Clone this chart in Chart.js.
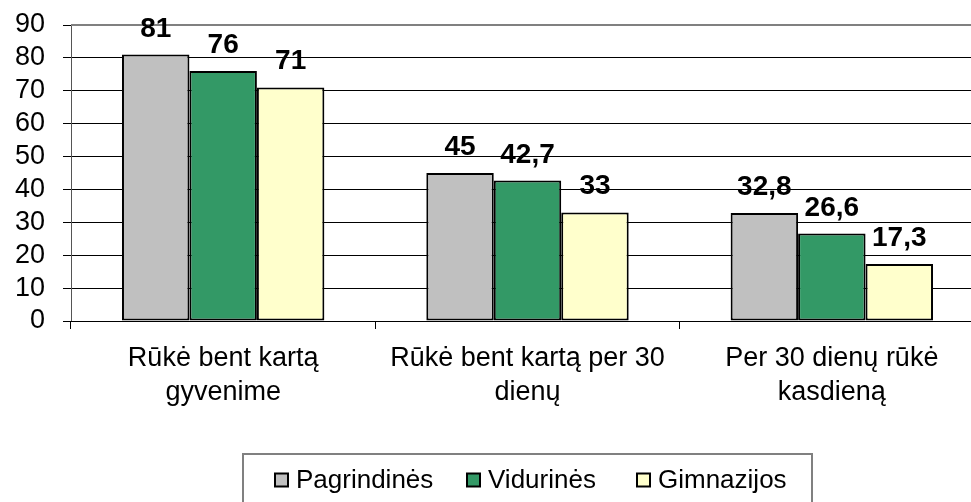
<!DOCTYPE html>
<html lang="lt">
<head>
<meta charset="utf-8">
<title>Rūkymas</title>
<script src="https://cdn.jsdelivr.net/npm/chart.js@4/dist/chart.umd.min.js"></script>
<style>
  html, body { margin: 0; padding: 0; background: #fff; overflow: hidden; }
  #wrap { width: 1000px; height: 502px; }
</style>
</head>
<body>
<div id="wrap"><canvas id="smokingChart" width="1000" height="502"></canvas></div>
<script>
const categories = [
  ['Rūkė bent kartą', 'gyvenime'],
  ['Rūkė bent kartą per 30', 'dienų'],
  ['Per 30 dienų rūkė', 'kasdieną']
];
const pagrindines = [81, 45, 32.8];
const vidurines = [76, 42.7, 26.6];
const gimnazijos = [71, 33, 17.3];
const seriesNames = ['Pagrindinės', 'Vidurinės', 'Gimnazijos'];
const yMin = 0;
const yMax = 90;
const yStep = 10;

const FONT = '"Liberation Sans", Arial, sans-serif';

function formatValue(v) {
  return String(v).replace('.', ',');
}

// grey frame line along the top of the plot area
const plotFrame = {
  id: 'plotFrame',
  beforeDatasetsDraw(chart) {
    const { ctx, chartArea } = chart;
    ctx.save();
    ctx.strokeStyle = '#808080';
    ctx.lineWidth = 2;
    ctx.beginPath();
    ctx.moveTo(chartArea.left, chartArea.top);
    ctx.lineTo(chartArea.right, chartArea.top);
    ctx.stroke();
    ctx.restore();
  }
};

// value labels above each bar
const valueLabels = {
  id: 'valueLabels',
  afterDatasetsDraw(chart) {
    const ctx = chart.ctx;
    ctx.save();
    ctx.font = 'bold 28px ' + FONT;
    ctx.fillStyle = '#000';
    ctx.textAlign = 'center';
    ctx.textBaseline = 'alphabetic';
    chart.data.datasets.forEach((ds, i) => {
      chart.getDatasetMeta(i).data.forEach((bar, j) => {
        ctx.fillText(formatValue(ds.data[j]), bar.x, bar.y - 18);
      });
    });
    ctx.restore();
  }
};

// boxed legend under the chart
const legendBoxX = [275, 467, 637];
const boxLegend = {
  id: 'boxLegend',
  afterDraw(chart) {
    const ctx = chart.ctx;
    ctx.save();
    ctx.strokeStyle = '#808080';
    ctx.lineWidth = 2;
    ctx.strokeRect(243, 454, 569, 70);

    ctx.font = '26px ' + FONT;
    ctx.textBaseline = 'middle';
    const y = 480;
    chart.data.datasets.forEach((ds, i) => {
      const x = legendBoxX[i];
      ctx.fillStyle = ds.backgroundColor;
      ctx.fillRect(x, y - 6.5, 13, 13);
      ctx.strokeStyle = '#000';
      ctx.lineWidth = 2;
      ctx.strokeRect(x, y - 6.5, 13, 13);
      ctx.fillStyle = '#000';
      ctx.fillText(ds.label, x + 21, y + 1);
    });
    ctx.restore();
  }
};

const colors = ['#C0C0C0', '#339966', '#FFFFCC'];
const seriesData = [pagrindines, vidurines, gimnazijos];

new Chart(document.getElementById('smokingChart'), {
  type: 'bar',
  data: {
    labels: categories,
    datasets: seriesData.map((d, i) => ({
      label: seriesNames[i],
      data: d,
      backgroundColor: colors[i],
      borderColor: '#000',
      borderWidth: 2,
      borderSkipped: false,
      categoryPercentage: 0.665,
      barPercentage: 1
    }))
  },
  options: {
    responsive: false,
    animation: false,
    devicePixelRatio: 1,
    layout: { padding: { top: 25, right: 16, left: 0, bottom: 0 } },
    plugins: {
      legend: { display: false },
      tooltip: { enabled: false }
    },
    scales: {
      y: {
        min: yMin,
        max: yMax,
        afterFit(scale) {
          scale.width = 71;
          scale.paddingTop = 0;
          scale.paddingBottom = 0;
        },
        grid: {
          color: c => (c.tick && c.tick.value === yMax ? '#808080' : '#000'),
          lineWidth: 1,
          tickLength: 8,
          tickColor: '#000'
        },
        border: { color: '#555', width: 1 },
        ticks: {
          stepSize: yStep,
          autoSkip: false,
          padding: 18,
          color: '#000',
          font: { family: FONT, size: 27 }
        }
      },
      x: {
        afterFit(scale) { scale.height = 181; },
        grid: { offset: true, drawOnChartArea: false, tickLength: 8, color: '#000' },
        border: { color: '#000', width: 1 },
        ticks: {
          padding: 13,
          color: '#000',
          maxRotation: 0,
          autoSkip: false,
          font: { family: FONT, size: 27, lineHeight: 1.26 }
        }
      }
    }
  },
  plugins: [plotFrame, valueLabels, boxLegend]
});
</script>
</body>
</html>
